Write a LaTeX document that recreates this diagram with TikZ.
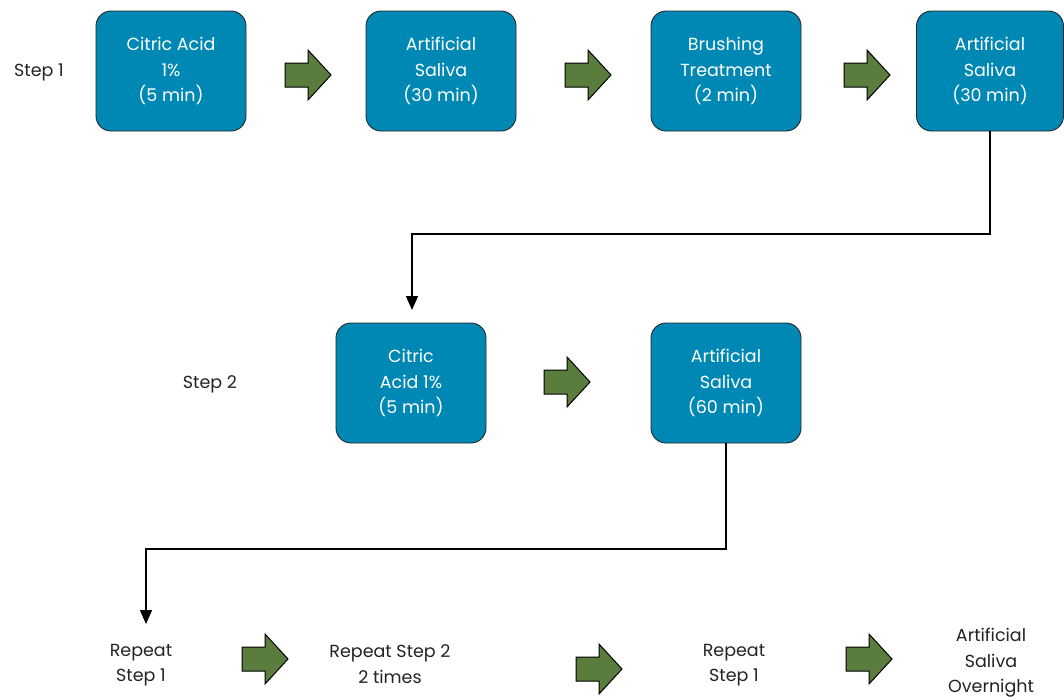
\documentclass[tikz,border=0pt]{standalone}
\usepackage{fontspec}
\setmainfont{Poppins}
\usetikzlibrary{arrows.meta}
\definecolor{boxblue}{RGB}{0,136,180}
\definecolor{arrowgreen}{RGB}{90,125,62}
\definecolor{txtgray}{RGB}{35,35,35}
\tikzset{
  box/.style={draw=black!85, line width=0.9pt, fill=boxblue, rounded corners=15pt,
    minimum width=150pt, minimum height=120pt, inner sep=0pt, text=white,
    align=center, font=\fontsize{17.5}{25.5}\selectfont},
  plain/.style={text=txtgray, align=center, inner sep=0pt, font=\fontsize{17.5}{25.5}\selectfont},
  conn/.style={line width=1.5pt, -{Triangle[length=14pt,width=12pt]}},
  blockarrow/.pic={\draw[fill=arrowgreen, line width=1pt, line join=miter]
    (-23,-12) -- (0,-12) -- (0,-25) -- (23,0) -- (0,25) -- (0,12) -- (-23,12) -- cycle;}
}
\begin{document}
\begin{tikzpicture}[x=1pt,y=-1pt]
\useasboundingbox (0,0) rectangle (1064,699);
% row 1
\node[plain] (s1) at (39,72) {Step 1};
\node[box] (b1) at (171,71) {Citric Acid\\1\%\\(5 min)};
\node[box] (b2) at (441,71) {Artificial\\Saliva\\(30 min)};
\node[box] (b3) at (726,71) {Brushing\\Treatment\\(2 min)};
\node[box, minimum width=147pt] (b4) at (990,71) {Artificial\\Saliva\\(30 min)};
\pic at (308,75) {blockarrow};
\pic at (588,75) {blockarrow};
\pic at (867,75) {blockarrow};
% row 2
\node[plain] (s2) at (210,384) {Step 2};
\node[box] (b5) at (411,383) {Citric\\Acid 1\%\\(5 min)};
\node[box] (b6) at (726,383) {Artificial\\Saliva\\(60 min)};
\pic at (567,382) {blockarrow};
% row 3
\node[plain] (r1) at (141,665) {Repeat\\Step 1};
\node[plain] (r2) at (390,664) {Repeat Step 2\\2 times};
\node[plain] (r3) at (734,665) {Repeat\\Step 1};
\node[plain] (r4) at (991,663) {Artificial\\Saliva\\Overnight};
\pic at (265,659) {blockarrow};
\pic at (599,669) {blockarrow};
\pic at (869,659) {blockarrow};
% connectors
\coordinate (c1) at (412,310);
\coordinate (c2) at (146,624);
\draw[conn] (b4.south) |- (412,234) -- (c1);
\draw[conn] (b6.south) |- (146,549) -- (c2);
\end{tikzpicture}
\end{document}
